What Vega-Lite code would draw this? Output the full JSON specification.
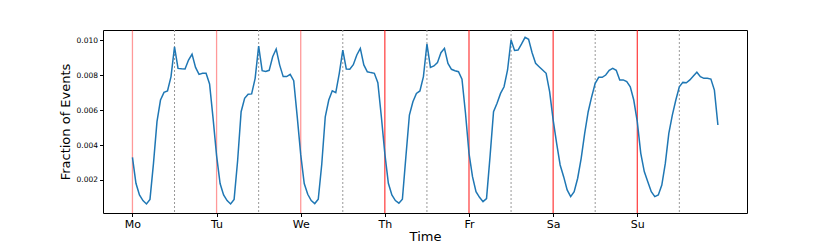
{
  "$schema": "https://vega.github.io/schema/vega-lite/v6.json",
  "width": 644,
  "height": 183,
  "autosize": {"type": "none"},
  "padding": {"left": 103, "top": 30, "right": 83, "bottom": 31},
  "config": {
    "font": "DejaVu Sans",
    "view": {"stroke": "#000000", "strokeWidth": 1},
    "axis": {"grid": false, "domain": false, "tickColor": "#000000", "labelColor": "#000000", "titleColor": "#000000", "titleFontWeight": "normal"}
  },
  "datasets": {
    "series": [
      {"hour": 0, "value": 0.00330}, {"hour": 1, "value": 0.00181}, {"hour": 2, "value": 0.00114}, {"hour": 3, "value": 0.00082}, {"hour": 4, "value": 0.00063}, {"hour": 5, "value": 0.00089},
      {"hour": 6, "value": 0.00295}, {"hour": 7, "value": 0.00534}, {"hour": 8, "value": 0.00658}, {"hour": 9, "value": 0.00702}, {"hour": 10, "value": 0.00710}, {"hour": 11, "value": 0.00792},
      {"hour": 12, "value": 0.00963}, {"hour": 13, "value": 0.00839}, {"hour": 14, "value": 0.00837}, {"hour": 15, "value": 0.00836}, {"hour": 16, "value": 0.00887}, {"hour": 17, "value": 0.00921},
      {"hour": 18, "value": 0.00845}, {"hour": 19, "value": 0.00805}, {"hour": 20, "value": 0.00811}, {"hour": 21, "value": 0.00811}, {"hour": 22, "value": 0.00750}, {"hour": 23, "value": 0.00553},
      {"hour": 24, "value": 0.00340}, {"hour": 25, "value": 0.00180}, {"hour": 26, "value": 0.00114}, {"hour": 27, "value": 0.00082}, {"hour": 28, "value": 0.00063}, {"hour": 29, "value": 0.00089},
      {"hour": 30, "value": 0.00310}, {"hour": 31, "value": 0.00591}, {"hour": 32, "value": 0.00668}, {"hour": 33, "value": 0.00691}, {"hour": 34, "value": 0.00693}, {"hour": 35, "value": 0.00782},
      {"hour": 36, "value": 0.00967}, {"hour": 37, "value": 0.00826}, {"hour": 38, "value": 0.00822}, {"hour": 39, "value": 0.00828}, {"hour": 40, "value": 0.00906}, {"hour": 41, "value": 0.00950},
      {"hour": 42, "value": 0.00858}, {"hour": 43, "value": 0.00792}, {"hour": 44, "value": 0.00792}, {"hour": 45, "value": 0.00805}, {"hour": 46, "value": 0.00769}, {"hour": 47, "value": 0.00563},
      {"hour": 48, "value": 0.00345}, {"hour": 49, "value": 0.00180}, {"hour": 50, "value": 0.00118}, {"hour": 51, "value": 0.00082}, {"hour": 52, "value": 0.00065}, {"hour": 53, "value": 0.00090},
      {"hour": 54, "value": 0.00290}, {"hour": 55, "value": 0.00562}, {"hour": 56, "value": 0.00658}, {"hour": 57, "value": 0.00711}, {"hour": 58, "value": 0.00700}, {"hour": 59, "value": 0.00811},
      {"hour": 60, "value": 0.00944}, {"hour": 61, "value": 0.00836}, {"hour": 62, "value": 0.00834}, {"hour": 63, "value": 0.00860}, {"hour": 64, "value": 0.00916}, {"hour": 65, "value": 0.00954},
      {"hour": 66, "value": 0.00859}, {"hour": 67, "value": 0.00820}, {"hour": 68, "value": 0.00815}, {"hour": 69, "value": 0.00811}, {"hour": 70, "value": 0.00757}, {"hour": 71, "value": 0.00562},
      {"hour": 72, "value": 0.00350}, {"hour": 73, "value": 0.00181}, {"hour": 74, "value": 0.00114}, {"hour": 75, "value": 0.00082}, {"hour": 76, "value": 0.00067}, {"hour": 77, "value": 0.00090},
      {"hour": 78, "value": 0.00334}, {"hour": 79, "value": 0.00572}, {"hour": 80, "value": 0.00648}, {"hour": 81, "value": 0.00696}, {"hour": 82, "value": 0.00710}, {"hour": 83, "value": 0.00792},
      {"hour": 84, "value": 0.00979}, {"hour": 85, "value": 0.00845}, {"hour": 86, "value": 0.00853}, {"hour": 87, "value": 0.00872}, {"hour": 88, "value": 0.00929}, {"hour": 89, "value": 0.00954},
      {"hour": 90, "value": 0.00868}, {"hour": 91, "value": 0.00834}, {"hour": 92, "value": 0.00826}, {"hour": 93, "value": 0.00820}, {"hour": 94, "value": 0.00777}, {"hour": 95, "value": 0.00582},
      {"hour": 96, "value": 0.00353}, {"hour": 97, "value": 0.00219}, {"hour": 98, "value": 0.00133}, {"hour": 99, "value": 0.00101}, {"hour": 100, "value": 0.00076}, {"hour": 101, "value": 0.00093},
      {"hour": 102, "value": 0.00334}, {"hour": 103, "value": 0.00591}, {"hour": 104, "value": 0.00639}, {"hour": 105, "value": 0.00696}, {"hour": 106, "value": 0.00734}, {"hour": 107, "value": 0.00830},
      {"hour": 108, "value": 0.01002}, {"hour": 109, "value": 0.00942}, {"hour": 110, "value": 0.00944}, {"hour": 111, "value": 0.00979}, {"hour": 112, "value": 0.01017}, {"hour": 113, "value": 0.01006},
      {"hour": 114, "value": 0.00929}, {"hour": 115, "value": 0.00868}, {"hour": 116, "value": 0.00849}, {"hour": 117, "value": 0.00830}, {"hour": 118, "value": 0.00811}, {"hour": 119, "value": 0.00706},
      {"hour": 120, "value": 0.00544}, {"hour": 121, "value": 0.00410}, {"hour": 122, "value": 0.00286}, {"hour": 123, "value": 0.00219}, {"hour": 124, "value": 0.00143}, {"hour": 125, "value": 0.00105},
      {"hour": 126, "value": 0.00133}, {"hour": 127, "value": 0.00210}, {"hour": 128, "value": 0.00324}, {"hour": 129, "value": 0.00467}, {"hour": 130, "value": 0.00591}, {"hour": 131, "value": 0.00677},
      {"hour": 132, "value": 0.00754}, {"hour": 133, "value": 0.00788}, {"hour": 134, "value": 0.00788}, {"hour": 135, "value": 0.00801}, {"hour": 136, "value": 0.00828}, {"hour": 137, "value": 0.00839},
      {"hour": 138, "value": 0.00828}, {"hour": 139, "value": 0.00773}, {"hour": 140, "value": 0.00773}, {"hour": 141, "value": 0.00763}, {"hour": 142, "value": 0.00734}, {"hour": 143, "value": 0.00658},
      {"hour": 144, "value": 0.00534}, {"hour": 145, "value": 0.00353}, {"hour": 146, "value": 0.00248}, {"hour": 147, "value": 0.00190}, {"hour": 148, "value": 0.00133}, {"hour": 149, "value": 0.00105},
      {"hour": 150, "value": 0.00114}, {"hour": 151, "value": 0.00171}, {"hour": 152, "value": 0.00295}, {"hour": 153, "value": 0.00467}, {"hour": 154, "value": 0.00572}, {"hour": 155, "value": 0.00658},
      {"hour": 156, "value": 0.00734}, {"hour": 157, "value": 0.00759}, {"hour": 158, "value": 0.00757}, {"hour": 159, "value": 0.00773}, {"hour": 160, "value": 0.00796}, {"hour": 161, "value": 0.00817},
      {"hour": 162, "value": 0.00792}, {"hour": 163, "value": 0.00782}, {"hour": 164, "value": 0.00782}, {"hour": 165, "value": 0.00778}, {"hour": 166, "value": 0.00715}, {"hour": 167, "value": 0.00515}
    ],
    "weekdayStarts": [{"hour": 0}, {"hour": 24}, {"hour": 48}],
    "laterStarts": [{"hour": 72}, {"hour": 96}, {"hour": 120}, {"hour": 144}],
    "noons": [{"hour": 12}, {"hour": 36}, {"hour": 60}, {"hour": 84}, {"hour": 108}, {"hour": 132}, {"hour": 156}]
  },
  "layer": [
    {
      "data": {"name": "noons"},
      "mark": {"type": "rule", "color": "#999999", "strokeWidth": 1, "strokeDash": [2, 2]},
      "encoding": {"x": {"field": "hour", "type": "quantitative", "scale": {"domain": [-8.4, 175.3], "nice": false, "zero": false}}}
    },
    {
      "data": {"name": "weekdayStarts"},
      "mark": {"type": "rule", "color": "#ff0000", "strokeWidth": 1.3, "opacity": 0.4},
      "encoding": {"x": {"field": "hour", "type": "quantitative"}}
    },
    {
      "data": {"name": "laterStarts"},
      "mark": {"type": "rule", "color": "#ff0000", "strokeWidth": 1.1, "opacity": 0.85},
      "encoding": {"x": {"field": "hour", "type": "quantitative"}}
    },
    {
      "data": {"name": "series"},
      "mark": {"type": "line", "color": "#1f77b4", "strokeWidth": 1.5},
      "encoding": {
        "x": {
          "field": "hour", "type": "quantitative",
          "scale": {"domain": [-8.4, 175.3], "nice": false, "zero": false},
          "axis": {
            "title": "Time", "titleFontSize": 13, "titlePadding": 1,
            "values": [0, 24, 48, 72, 96, 120, 144],
            "labelExpr": "['Mo','Tu','We','Th','Fr','Sa','Su'][round(datum.value/24)]",
            "labelFontSize": 11, "tickSize": 3.5, "labelPadding": 2
          }
        },
        "y": {
          "field": "value", "type": "quantitative",
          "scale": {"domain": [0.00011, 0.01059], "nice": false, "zero": false},
          "axis": {
            "title": "Fraction of Events", "titleFontSize": 13, "titlePadding": 4,
            "values": [0.002, 0.004, 0.006, 0.008, 0.010],
            "format": ".3f", "labelFontSize": 7.5, "tickSize": 3.5, "labelPadding": 2
          }
        }
      }
    }
  ]
}
